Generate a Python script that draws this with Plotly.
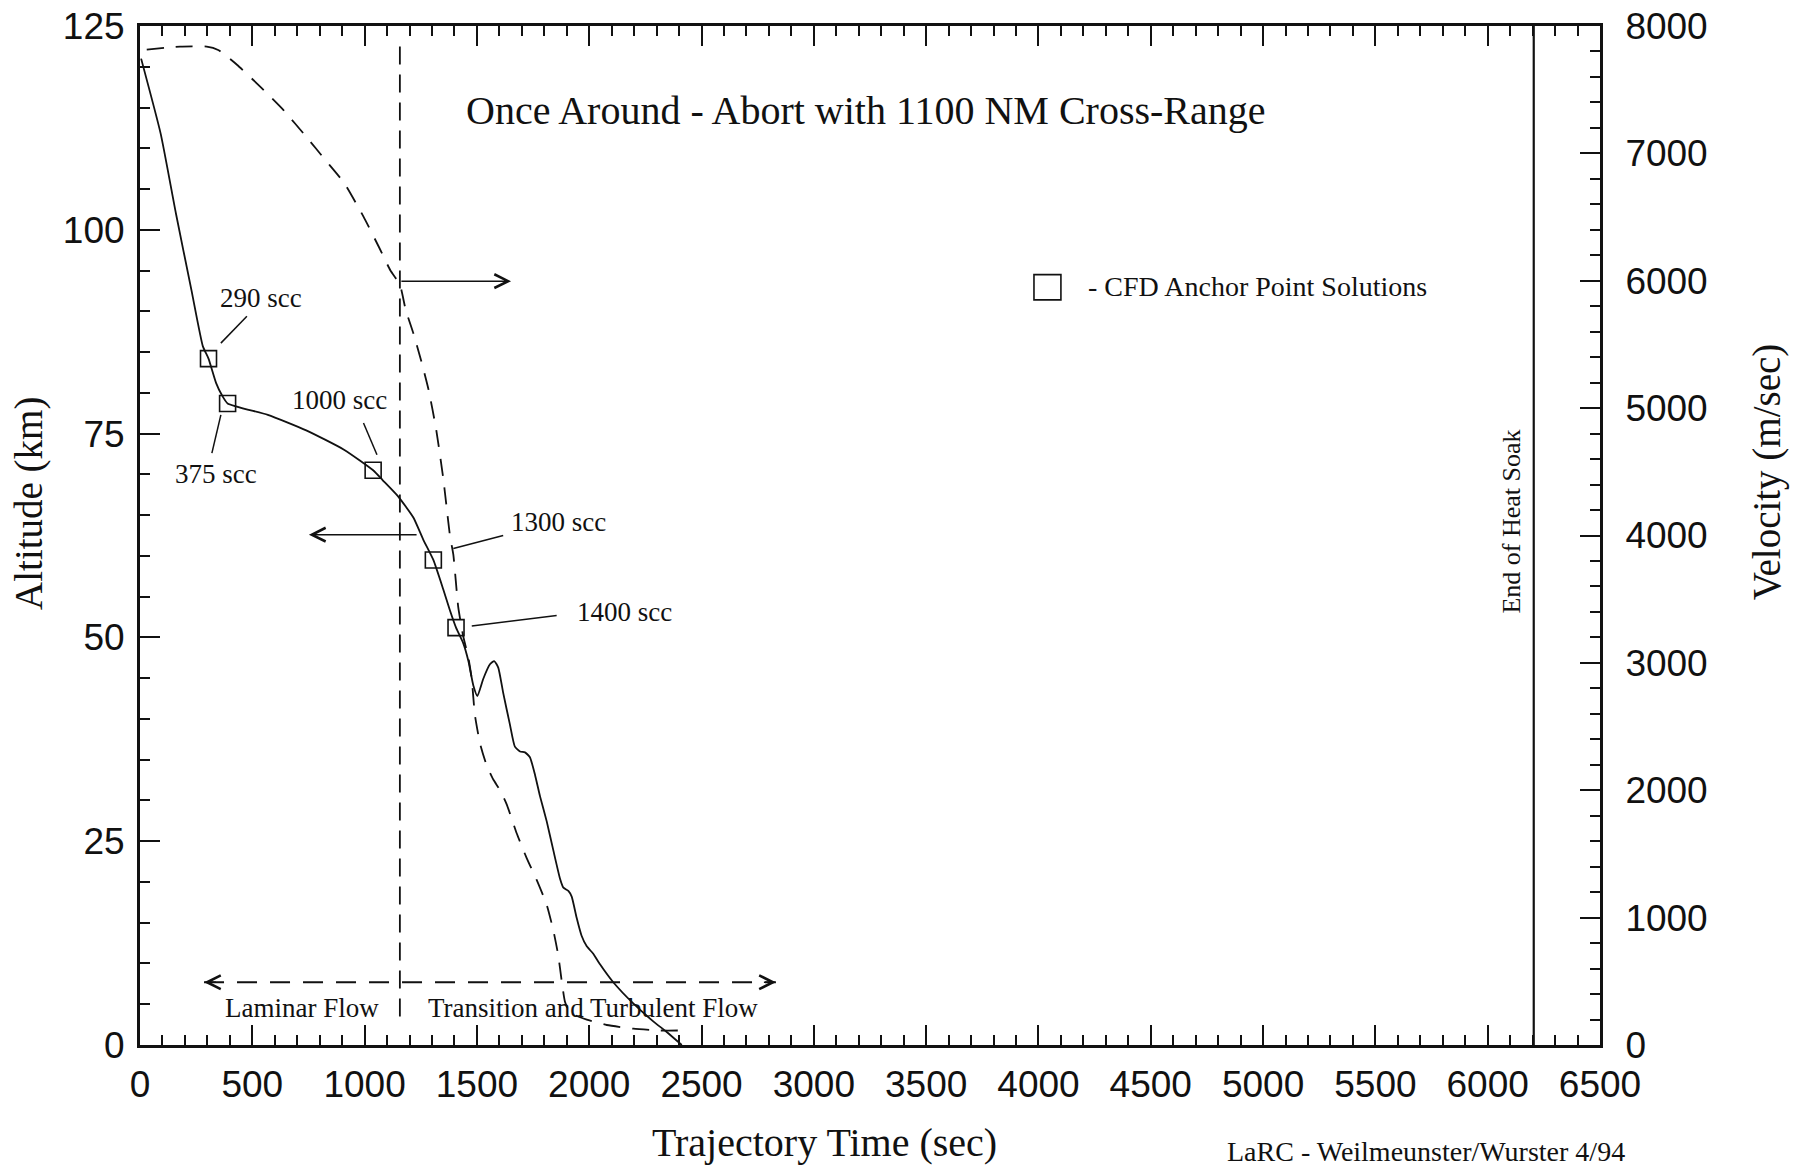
import plotly.graph_objects as go

# ---------------- data ----------------
alt_t = [5, 92, 160, 229, 280, 305, 339, 365, 390, 569, 740, 910, 1038, 1080, 1149,
         1217, 1261, 1306, 1350, 1380, 1407, 1439, 1462, 1484, 1502, 1528, 1558, 1577,
         1595, 1617, 1647, 1669, 1692, 1714, 1736, 1759, 1781, 1811, 1840, 1870, 1885,
         1907, 1922, 1944, 1966, 1989, 2018, 2048, 2107, 2196, 2285, 2345, 2412]
alt_km = [121.0, 111.8, 102.0, 92.6, 85.7, 84.2, 81.2, 79.7, 78.7, 77.3, 75.4, 73.0, 70.5,
          69.3, 67.3, 64.7, 62.0, 59.5, 55.9, 53.3, 51.2, 49.3, 47.1, 44.1, 42.8, 44.9,
          46.7, 47.1, 46.3, 43.2, 39.3, 36.6, 36.0, 35.9, 35.3, 33.1, 30.5, 27.4, 23.9,
          20.4, 19.3, 18.9, 18.2, 15.6, 13.4, 12.1, 11.2, 9.9, 7.7, 5.1, 2.9, 1.6, 0.0]

vel_t = [30, 178, 297, 348, 433, 535, 638, 740, 825, 910, 995, 1063, 1115, 1157, 1183,
         1217, 1251, 1285, 1319, 1350, 1365, 1380, 1395, 1417, 1439, 1462, 1477, 1491,
         1514, 1543, 1573, 1603, 1633, 1677, 1722, 1766, 1811, 1840, 1862, 1877, 1892,
         1914, 1989, 2078, 2196, 2315, 2419]
vel_ms = [7815, 7838, 7838, 7812, 7694, 7524, 7341, 7131, 6948, 6765, 6503, 6267, 6080,
          5970, 5771, 5587, 5378, 5142, 4828, 4450, 4222, 3998, 3850, 3435, 3209, 3041,
          2872, 2591, 2366, 2197, 2084, 2000, 1887, 1662, 1465, 1296, 1099, 902, 705,
          508, 339, 255, 199, 157, 128, 114, 114]

anchor_t = [305, 390, 1038, 1306, 1407]
anchor_alt = [84.2, 78.7, 70.5, 59.5, 51.2]
anchor_labels = ["290 scc", "375 scc", "1000 scc", "1300 scc", "1400 scc"]
label_t = [539, 338, 890, 1861, 2155]
label_alt = [91.6, 70.0, 79.1, 64.2, 53.1]
leader_from = [(360, 86.1), (360, 77.3), (995, 76.3), (1395, 60.9), (1477, 51.4)]
leader_to = [(476, 89.4), (320, 72.6), (1055, 72.4), (1617, 62.5), (1855, 52.7)]

transition_t = 1157          # laminar / transition boundary
transition_alt = [122.5, 3.0]
heat_soak_t = 6205
flow_arrow_t = [285, 2831]
flow_arrow_alt = 7.7

x_ticks = list(range(0, 6501, 500))
alt_ticks = [0, 25, 50, 75, 100, 125]
vel_ticks = list(range(0, 8001, 1000))

SERIF = "Liberation Serif, Times New Roman, serif"
SANS = "Liberation Sans, Arial, sans-serif"
BLACK = "#111111"

fig = go.Figure()

# altitude (solid)
fig.add_trace(go.Scatter(x=alt_t, y=alt_km, mode="lines",
                         line=dict(color=BLACK, width=1.8, shape="spline", smoothing=0.5),
                         showlegend=False, hoverinfo="skip"))
# anchor squares
fig.add_trace(go.Scatter(x=anchor_t, y=anchor_alt, mode="markers",
                         marker=dict(symbol="square-open", size=16, color=BLACK,
                                     line=dict(width=1.6, color=BLACK)),
                         showlegend=False, hoverinfo="skip"))
# velocity (dashed) on right axis
fig.add_trace(go.Scatter(x=vel_t, y=vel_ms, mode="lines", yaxis="y2",
                         line=dict(color=BLACK, width=1.8, dash="17px,12px",
                                   shape="spline", smoothing=0.5),
                         showlegend=False, hoverinfo="skip"))
# vertical dashed transition line
fig.add_trace(go.Scatter(x=[transition_t, transition_t], y=transition_alt, mode="lines",
                         line=dict(color=BLACK, width=1.8, dash="18px,10px"),
                         showlegend=False, hoverinfo="skip"))
# horizontal dashed flow line
fig.add_trace(go.Scatter(x=flow_arrow_t, y=[flow_arrow_alt, flow_arrow_alt], mode="lines",
                         line=dict(color=BLACK, width=1.8, dash="20px,13px"),
                         showlegend=False, hoverinfo="skip"))
# end of heat soak
fig.add_trace(go.Scatter(x=[heat_soak_t, heat_soak_t], y=[0, 125], mode="lines",
                         line=dict(color=BLACK, width=2.2),
                         showlegend=False, hoverinfo="skip"))

annotations = []
shapes = []

# leader lines and labels
for (x0, y0), (x1, y1) in zip(leader_from, leader_to):
    shapes.append(dict(type="line", xref="x", yref="y", x0=x0, y0=y0, x1=x1, y1=y1,
                       line=dict(color=BLACK, width=1.5)))
for lt, la, txt in zip(label_t, label_alt, anchor_labels):
    annotations.append(dict(x=lt, y=la, xref="x", yref="y", text=txt, showarrow=False,
                            xanchor="center", yanchor="middle",
                            font=dict(family=SERIF, size=27, color=BLACK)))

# arrows pointing to the axes
annotations.append(dict(x=1652, y=93.7, ax=transition_t, ay=93.7, xref="x", yref="y",
                        axref="x", ayref="y", text="", showarrow=True, arrowhead=5,
                        arrowsize=1.8, arrowwidth=1.5, arrowcolor=BLACK))
annotations.append(dict(x=752, y=62.6, ax=1238, ay=62.6, xref="x", yref="y",
                        axref="x", ayref="y", text="", showarrow=True, arrowhead=5,
                        arrowsize=1.8, arrowwidth=1.5, arrowcolor=BLACK))
# flow arrow heads
annotations.append(dict(x=flow_arrow_t[0], y=flow_arrow_alt, ax=flow_arrow_t[0] + 60,
                        ay=flow_arrow_alt, xref="x", yref="y", axref="x", ayref="y",
                        text="", showarrow=True, arrowhead=5, arrowsize=1.8,
                        arrowwidth=1.5, arrowcolor=BLACK))
annotations.append(dict(x=flow_arrow_t[1], y=flow_arrow_alt, ax=flow_arrow_t[1] - 60,
                        ay=flow_arrow_alt, xref="x", yref="y", axref="x", ayref="y",
                        text="", showarrow=True, arrowhead=5, arrowsize=1.8,
                        arrowwidth=1.5, arrowcolor=BLACK))

annotations += [
    dict(x=3232, y=114.6, xref="x", yref="y", text="Once Around - Abort with 1100 NM Cross-Range",
         showarrow=False, xanchor="center", yanchor="middle",
         font=dict(family=SERIF, size=40, color=BLACK)),
    dict(x=4211, y=93.0, xref="x", yref="y", text="- CFD Anchor Point Solutions",
         showarrow=False, xanchor="left", yanchor="middle",
         font=dict(family=SERIF, size=28, color=BLACK)),
    dict(x=721, y=4.5, xref="x", yref="y", text="Laminar Flow", showarrow=False,
         xanchor="center", yanchor="middle", font=dict(family=SERIF, size=27, color=BLACK)),
    dict(x=2017, y=4.5, xref="x", yref="y", text="Transition and Turbulent Flow",
         showarrow=False, xanchor="center", yanchor="middle",
         font=dict(family=SERIF, size=27, color=BLACK)),
    dict(x=6108, y=64.2, xref="x", yref="y", text="End of Heat Soak", textangle=-90,
         showarrow=False, xanchor="center", yanchor="middle",
         font=dict(family=SERIF, size=26, color=BLACK)),
    dict(x=0.4685, y=-0.0952, xref="paper", yref="paper", text="Trajectory Time (sec)",
         showarrow=False, xanchor="center", yanchor="middle",
         font=dict(family=SERIF, size=40, color=BLACK)),
    dict(x=-0.076, y=0.531, xref="paper", yref="paper", text="Altitude (km)", textangle=-90,
         showarrow=False, xanchor="center", yanchor="middle",
         font=dict(family=SERIF, size=39, color=BLACK)),
    dict(x=1.1144, y=0.562, xref="paper", yref="paper", text="Velocity (m/sec)",
         textangle=-90, showarrow=False, xanchor="center", yanchor="middle",
         font=dict(family=SERIF, size=39, color=BLACK)),
    dict(x=0.743, y=-0.1045, xref="paper", yref="paper", xanchor="left", yanchor="middle",
         text="LaRC - Weilmeunster/Wurster 4/94", showarrow=False,
         font=dict(family=SERIF, size=28, color=BLACK)),
]

# legend square
shapes.append(dict(type="rect", xref="x", yref="y", x0=3980, x1=4100, y0=91.4, y1=94.5,
                   line=dict(color=BLACK, width=1.6)))

axis_common = dict(showgrid=False, zeroline=False, showline=True, linecolor=BLACK,
                   linewidth=3, ticks="inside", ticklen=20, tickwidth=2, tickcolor=BLACK,
                   automargin=False,
                   tickfont=dict(family=SANS, size=37, color=BLACK))

fig.update_layout(
    template="none",
    width=1794, height=1167, autosize=False,
    margin=dict(l=140, r=194, t=26, b=122, pad=0),
    paper_bgcolor="white", plot_bgcolor="white",
    showlegend=False,
    xaxis=dict(range=[0, 6500], tickvals=x_ticks, ticktext=[str(v) for v in x_ticks],
               mirror="ticks", ticklabelstandoff=5,
               minor=dict(dtick=100, ticks="inside", ticklen=10, tickwidth=2,
                          tickcolor=BLACK),
               **axis_common),
    yaxis=dict(range=[0, 125], tickvals=alt_ticks, ticktext=[str(v) for v in alt_ticks],
               ticklabelstandoff=5,
               minor=dict(dtick=5, ticks="inside", ticklen=10, tickwidth=2,
                          tickcolor=BLACK),
               **axis_common),
    yaxis2=dict(range=[0, 8000], overlaying="y", side="right", tickvals=vel_ticks,
                ticktext=[str(v) for v in vel_ticks], ticklabelstandoff=15,
                minor=dict(dtick=200, ticks="inside", ticklen=10, tickwidth=2,
                           tickcolor=BLACK),
                **axis_common),
    annotations=annotations,
    shapes=shapes,
)

fig.write_html("out.html", config={"displayModeBar": False},
               post_script="document.body.style.margin='0';"
                           "document.body.style.overflow='hidden';")
